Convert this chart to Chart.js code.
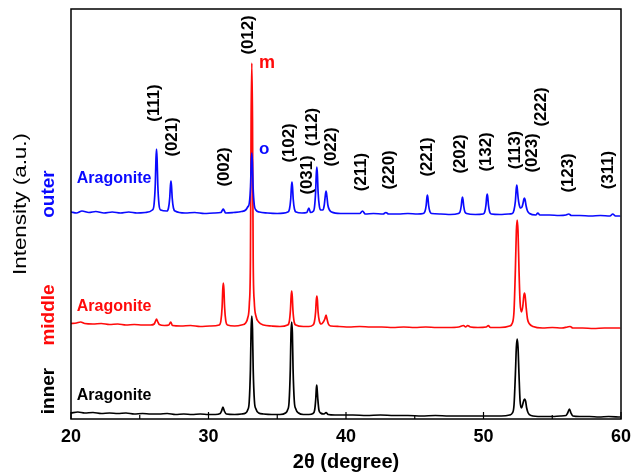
<!DOCTYPE html>
<html>
<head>
<meta charset="utf-8">
<script src="https://cdn.jsdelivr.net/npm/chart.js@4.4.1/dist/chart.umd.min.js"></script>
<style>
  body { margin: 0; background: #fff; }
  #wrap { width: 631px; height: 476px; }
</style>
</head>
<body>
<div id="wrap"><canvas id="xrd" width="631" height="476"></canvas></div>
<script>
/* Data: 2theta (degree) and offset intensity (a.u.) */
/////////////////////////////////////////////////////////////////
const outerTheta = [20.0,20.4,20.8,21.3,21.8,22.4,23.0,23.6,24.2,24.8,25.4,
  25.92,26.04,26.13,26.18,26.22,26.26,26.31,26.4,26.52,
  26.97,27.09,27.18,27.23,27.27,27.31,27.36,27.45,27.57,
  28.3,29.0,29.7,30.4,30.9,31.0,31.07,31.14,31.25,31.8,
  32.4,32.7,32.85,32.97,33.06,33.11,33.15,33.19,33.24,33.33,33.45,33.7,
  34.3,35.0,35.77,35.89,35.98,36.03,36.07,36.11,36.16,36.25,36.37,
  36.8,37.15,37.3,37.42,37.6,37.7,37.79,37.84,37.88,37.92,37.97,38.06,38.15,
  38.32,38.42,38.5,38.55,38.6,38.68,38.8,38.95,
  39.6,40.4,41.0,41.2,41.4,42.0,42.7,42.9,43.1,43.8,44.5,45.2,
  45.62,45.74,45.83,45.88,45.92,45.96,46.01,46.1,46.22,
  46.9,47.6,48.17,48.29,48.38,48.43,48.47,48.51,48.56,48.65,48.77,
  49.4,49.97,50.09,50.18,50.23,50.27,50.31,50.36,50.45,50.57,
  51.2,51.8,52.1,52.22,52.32,52.38,52.42,52.46,52.52,52.6,52.7,52.8,52.88,52.94,52.98,53.03,53.1,53.2,53.35,
  53.8,53.95,54.1,54.8,55.5,56.0,56.2,56.4,57.0,57.8,58.5,59.2,59.4,59.6,59.9];
const outerCounts = [207,206,208,206.5,207.5,206,207,206,207,206,206.5,
  209,214.5,235,260.5,270,260.5,235,214.5,209,
  208,211,221,233,238,233,221,211,208,
  206,206.5,205.5,206,206.5,208.5,210,208.5,206,206.5,
  207.5,209,212,216,233,257,266,257,233,214,209,207,
  206,205.5,207,210,220,232,237,232,220,210,207,
  206,206.5,211,206.5,207.5,211,227,245,252,245,227,213,209,
  209,214,224,228,224,214,209,207,
  205.5,205.5,205.5,208,205,205.5,205,206.5,205,205,205.5,205,
  205.5,207.5,213.5,221,224,221,213.5,207.5,205.5,
  205,204.5,205.5,207,213,219.5,222,219.5,213,207,205.5,
  204.5,205,207,214,222,225,222,214,207,205,
  204.5,205,205.5,209,218,230,234,230,221,214,211,212,216,220,221,219,213,208,205.5,
  204,206,204,204,203.5,204,205,203.5,203.5,203,203.5,203,205,203,203];

const middleTheta = [20.0,20.4,20.7,21.0,21.6,22.2,22.8,23.4,24.0,24.6,25.2,25.8,
  26.05,26.15,26.22,26.3,26.42,26.8,27.12,27.25,27.38,
  28.0,28.7,29.4,30.1,30.78,30.9,30.99,31.04,31.08,31.12,31.17,31.26,31.38,
  31.9,32.4,32.7,32.85,32.97,33.05,33.1,33.15,33.2,33.25,33.33,33.45,33.65,34.0,
  34.6,35.2,35.75,35.87,35.96,36.01,36.05,36.09,36.14,36.23,36.35,
  36.9,37.3,37.6,37.7,37.79,37.84,37.88,37.92,37.97,38.06,38.2,38.35,38.46,38.55,38.62,38.72,38.9,
  39.5,40.2,41.0,41.8,42.6,43.4,44.2,45.0,45.8,46.6,47.4,48.2,48.55,48.7,48.85,49.05,49.6,50.2,50.35,50.5,
  51.2,51.9,52.1,52.22,52.32,52.39,52.45,52.51,52.58,52.66,52.76,52.86,52.93,52.98,53.03,53.1,53.2,53.35,53.6,
  54.3,55.0,55.7,56.1,56.3,56.5,57.2,58.0,58.8,59.5,59.9];
const middleCounts = [95.5,96,97,95.5,95,95.5,94.5,95,94,94.5,94,94,
  95,98,100,97.5,94.5,93.5,94,97,93.5,
  93,93.5,92.5,93,94,98,112,130,136,130,112,98,94,
  93,94,96,101,115,160,300,356,300,160,117,103,97,94,
  93,92.5,94,97,109,123,128,123,109,97,94,
  92.5,92.5,94,97,107,119,123,119,107,98,95,97,100,104,100,95,93,
  92.5,92,92.5,92,92,91.5,92,91.5,92,91.5,91.5,92,93.5,92,93.5,92,91.5,92,93.5,91.5,
  91.5,93,96,108,150,188,199,188,150,117,107,113,123,126,123,112,100,95,92.5,
  91,91.5,91,92,92.5,91,91,90.5,91,91,91];

const innerTheta = [20.0,20.5,21.0,21.6,22.2,22.8,23.4,24.0,24.6,25.2,25.8,26.4,27.0,27.6,28.2,28.8,29.4,30.0,
  30.5,30.85,30.95,31.05,31.15,31.3,31.9,
  32.4,32.7,32.85,32.96,33.05,33.1,33.15,33.2,33.25,33.34,33.45,33.65,34.0,
  34.6,35.2,35.6,35.75,35.86,35.95,36.0,36.05,36.1,36.15,36.24,36.35,36.55,36.9,
  37.3,37.6,37.72,37.8,37.84,37.87,37.9,37.95,38.03,38.15,38.4,38.55,38.7,39.2,
  39.8,40.5,41.5,42.5,43.5,44.5,45.5,46.5,47.5,48.5,49.5,50.5,51.3,
  51.9,52.1,52.22,52.32,52.39,52.45,52.51,52.58,52.66,52.76,52.86,52.94,53.0,53.06,53.14,53.25,53.45,
  54.2,55.0,55.6,56.0,56.12,56.25,56.36,56.5,57.0,57.7,58.4,59.1,59.9];
const innerCounts = [6,7,6,6.5,5.5,6,5.5,6,5,5.5,5,5,5.5,4.5,5,4.5,5,4.5,
  4.5,5.5,8,12,8,5,4.5,
  5,6,9,17,50,90,103,90,50,18,10,6,5,
  4.5,4.5,6,9,17,50,86,97,86,50,18,10,6,4.5,
  4.5,5.5,9,20,30,34,30,20,9,6,5,6.5,4.5,4,
  4,4,3.5,4,3.5,3.5,3,3.5,3,3,3,3,3,
  4,6,14,45,72,80,72,45,18,11,15,19,20,18,11,6,3.5,
  2.5,2.5,3,3.5,6,10,6,3,2.5,2.5,2,2.5,2];

/* Miller index labels: text, 2theta and height of the label centre */
/////////////////////////////////////////////////////////////////
const hklText  = ['(111)','(021)','(002)','(012)','(102)','(031)','(112)','(022)','(211)','(220)',
  '(221)','(202)','(132)','(113)','(023)','(222)','(123)','(311)'];
const hklTheta = [26.1,27.4,31.15,32.9,35.9,37.2,37.6,38.95,41.15,43.15,
  45.9,48.35,50.25,52.3,53.55,54.25,56.2,59.1];
const hklLevel = [316,282,252,384,276,244,292,272,247,249,
  262,265,267,269,266,312,246,249];

const xTicks = [20, 30, 40, 50, 60];
const xMinorTicks = [25, 35, 45, 55];
const sampleNames = ['outer', 'middle', 'inner'];
const sampleLevel = [225, 104, 28];
const phaseLevel = [240, 112, 23];
const colors = ['#0a0aff', '#ff0a0a', '#000000'];

/////////////////////////////////////////////////////////////////
function toPoints(xs, ys) {
    let pts = [];
    for (let i = 0; i < xs.length; i++) {
        pts.push({x: xs[i], y: ys[i]});
    }
    return pts;
}

const FONT = 'Arial, "Liberation Sans", sans-serif';
Chart.defaults.font.family = FONT;
Chart.defaults.color = '#000';

/* Text that is drawn on the canvas, rotated and stretched if needed */
function putText(ctx, txt, x, y, font, color, rot, stretch) {
    ctx.save();
    ctx.translate(x, y);
    if (rot) ctx.rotate(rot);
    if (stretch) ctx.scale(stretch, 1);
    ctx.font = font;
    ctx.fillStyle = color;
    ctx.textAlign = 'center';
    ctx.textBaseline = 'middle';
    ctx.fillText(txt, 0, 0);
    ctx.restore();
}

/////////////////////////////////////////////////////////////////
const decor = {
    id: 'decor',
    afterDatasetsDraw(chart) {
        const ctx = chart.ctx;
        const a = chart.chartArea;
        const xs = chart.scales.x;
        const ys = chart.scales.y;

        // frame
        ctx.save();
        ctx.strokeStyle = '#000';
        ctx.lineWidth = 1.5;
        ctx.strokeRect(a.left, a.top, a.right - a.left, a.bottom - a.top);

        // inward ticks on the bottom axis
        ctx.lineWidth = 1.2;
        ctx.beginPath();
        xTicks.forEach(v => {
            let px = xs.getPixelForValue(v);
            ctx.moveTo(px, a.bottom);
            ctx.lineTo(px, a.bottom - 7);
        });
        xMinorTicks.forEach(v => {
            let px = xs.getPixelForValue(v);
            ctx.moveTo(px, a.bottom);
            ctx.lineTo(px, a.bottom - 4);
        });
        ctx.stroke();
        ctx.restore();

        // hkl labels
        for (let i = 0; i < hklText.length; i++) {
            putText(ctx, hklText[i], xs.getPixelForValue(hklTheta[i]), ys.getPixelForValue(hklLevel[i]),
                'bold 16px ' + FONT, '#000', -Math.PI / 2, 1.05);
        }

        // m and o marks on the (012) peak
        putText(ctx, 'm', xs.getPixelForValue(34.25), ys.getPixelForValue(356), 'bold 18px ' + FONT, colors[1]);
        putText(ctx, 'o', xs.getPixelForValue(34.05), ys.getPixelForValue(270), 'bold 17px ' + FONT, colors[0]);

        // phase and sample names
        for (let i = 0; i < 3; i++) {
            ctx.save();
            ctx.font = 'bold 16px ' + FONT;
            ctx.fillStyle = colors[i];
            ctx.textAlign = 'left';
            ctx.textBaseline = 'middle';
            ctx.fillText('Aragonite', xs.getPixelForValue(20.42), ys.getPixelForValue(phaseLevel[i]));
            ctx.restore();
            putText(ctx, sampleNames[i], 49, ys.getPixelForValue(sampleLevel[i]),
                'bold 19px ' + FONT, colors[i], -Math.PI / 2);
        }

        putText(ctx, 'Intensity (a.u.)', 21, ys.getPixelForValue(215), '19px ' + FONT, '#000', -Math.PI / 2, 1.18);
    }
};

/////////////////////////////////////////////////////////////////
const ctx = document.getElementById('xrd');
const xrdChart = new Chart(ctx, {
    type: 'line',
    data: {
        datasets: [
            {label: 'outer', data: toPoints(outerTheta, outerCounts), borderColor: colors[0], order: 1},
            {label: 'middle', data: toPoints(middleTheta, middleCounts), borderColor: colors[1], order: 2},
            {label: 'inner', data: toPoints(innerTheta, innerCounts), borderColor: colors[2], order: 3}
        ]
    },
    options: {
        responsive: false,
        animation: false,
        devicePixelRatio: 1,
        elements: {
            line: {borderWidth: 1.7, cubicInterpolationMode: 'monotone', borderJoinStyle: 'round',
                borderCapStyle: 'round', fill: false},
            point: {radius: 0}
        },
        layout: {padding: {left: 71, right: 10, top: 9, bottom: 0}},
        plugins: {legend: {display: false}, tooltip: {enabled: false}},
        scales: {
            x: {
                type: 'linear',
                min: 20,
                max: 60,
                afterBuildTicks: (s) => { s.ticks = xTicks.map(v => ({value: v})); },
                afterFit: (s) => { s.height = 57; s.paddingLeft = 0; s.paddingRight = 0; },
                grid: {display: false, drawTicks: false},
                border: {display: false},
                ticks: {font: {size: 18, weight: 'bold'}, color: '#000', padding: 7, maxRotation: 0},
                title: {display: true, text: '2θ (degree)', font: {size: 20, weight: 'bold'}, color: '#000',
                    padding: {top: 0, bottom: 2}}
            },
            y: {
                display: false,
                min: 0,
                max: 410
            }
        }
    },
    plugins: [decor]
});
/////////////////////////////////////////////////////////////////
</script>
</body>
</html>
